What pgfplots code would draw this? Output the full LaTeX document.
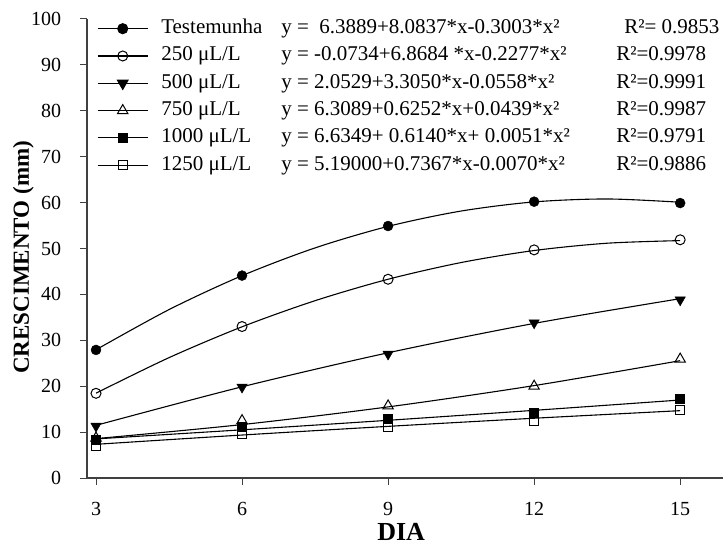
\documentclass[border=0pt]{standalone}
\usepackage{fontspec}
\setmainfont{Liberation Serif}
\usepackage{pgfplots}
\pgfplotsset{compat=1.18}
\begin{document}
\begin{tikzpicture}
\begin{axis}[
  at={(87bp,72bp)}, anchor=south west,
  scale only axis, width=636bp, height=459bp,
  xmin=2.815, xmax=15.88, ymin=0, ymax=100,
  axis x line=bottom, axis y line=left,
  axis line style={-, line width=1.2bp, black!75},
  xtick={3,6,9,12,15}, ytick={0,10,...,100},
  tick align=outside, major tick length=7bp,
  tick style={black!75, line width=1bp},
  /pgf/number format/assume math mode=true,
  tick label style={font=\fontsize{20bp}{22bp}\selectfont, inner sep=1bp},
  xticklabel shift=16bp,
  yticklabel shift=17.7bp,
  xlabel={\textbf{DIA}},
  ylabel={\textbf{CRESCIMENTO (mm)}},
  xlabel style={font=\fontsize{26bp}{28bp}\selectfont, inner sep=1bp, at={(axis description cs:0.494,-0.118)}, anchor=center},
  ylabel style={font=\fontsize{23bp}{25bp}\selectfont, inner sep=1bp, at={(axis description cs:-0.100,0.481)}, anchor=center, rotate=0},
  legend image code/.code={\draw[mark repeat=2,mark phase=2,#1] plot coordinates {(0bp,0bp) (25bp,0bp) (50bp,0bp)};},
  legend style={draw=none, fill=none, at={(0,1)}, anchor=north west, xshift=7bp, yshift=2bp,
    font=\fontsize{21bp}{23bp}\selectfont,
    nodes={inner sep=0pt, text height=14.5bp, text depth=4.5bp},
    row sep=8.3bp, column sep=0pt,
    /tikz/every odd column/.append style={column sep=13bp}},
  legend cell align=left,
  clip=false,
]
% fitted curves
\addplot[black, line width=1.1bp, smooth, forget plot] coordinates {(3,27.94) (4.5,36.69) (6,44.08) (7.5,50.13) (9,54.82) (10.5,58.16) (12,60.15) (13.5,60.79) (15,60.08)};
\addplot[black, line width=1.1bp, smooth, forget plot] coordinates {(3,18.48) (4.5,26.22) (6,32.94) (7.5,38.63) (9,43.30) (10.5,46.94) (12,49.56) (13.5,51.15) (15,51.72)};
\addplot[black, line width=1.1bp, smooth, forget plot] coordinates {(3,11.47) (6,19.87) (9,27.28) (12,33.68) (15,39.07)};
\addplot[black, line width=1.1bp, smooth, forget plot] coordinates {(3,8.58) (6,11.64) (9,15.49) (12,20.13) (15,25.56)};
\addplot[black, line width=1.1bp, smooth, forget plot] coordinates {(3,8.52) (6,10.50) (9,12.57) (12,14.74) (15,16.99)};
\addplot[black, line width=1.1bp, smooth, forget plot] coordinates {(3,7.34) (6,9.36) (9,11.25) (12,13.02) (15,14.67)};
% observed points
\addplot[only marks, mark=triangle, mark size=6bp, mark options={fill=white, black, line width=1bp}, forget plot] coordinates {(3,8.7) (6,12.5) (9,15.7) (12,20.0) (15,25.9)};
\addplot[only marks, mark=square*, mark size=4.5bp, mark options={fill=black, black}, forget plot] coordinates {(3,8.4) (6,11.2) (9,13.0) (12,14.2) (15,17.2)};
\addplot[only marks, mark=square, mark size=4.5bp, mark options={fill=white, black, line width=1bp}, forget plot] coordinates {(3,7.0) (6,9.6) (9,11.2) (12,12.5) (15,14.8)};
\addplot[only marks, mark=triangle*, mark size=6bp, mark options={fill=black, black, rotate=180}, forget plot] coordinates {(3,11.3) (6,19.8) (9,27.0) (12,33.8) (15,38.8)};
\addplot[only marks, mark=o, mark size=5bp, mark options={fill=white, black, line width=1bp}, forget plot] coordinates {(3,18.45) (6,33.0) (9,43.3) (12,49.7) (15,51.9)};
\addplot[only marks, mark=*, mark size=5bp, mark options={fill=black, black}, forget plot] coordinates {(3,27.9) (6,44.1) (9,54.9) (12,60.2) (15,59.9)};
% legend
\addlegendimage{black, line width=1.1bp, mark=*, mark size=5bp, mark options={fill=black}}
\addlegendentry{\makebox[120bp][l]{Testemunha}\makebox[343bp][l]{y =\ \ 6.3889+8.0837*x-0.3003*x²}R²= 0.9853}
\addlegendimage{black, line width=1.1bp, mark=o, mark size=5bp, mark options={fill=white, line width=1bp}}
\addlegendentry{\makebox[120bp][l]{250 μL/L}\makebox[335bp][l]{y = -0.0734+6.8684 *x-0.2277*x²}R²=0.9978}
\addlegendimage{black, line width=1.1bp, mark=triangle*, mark size=6bp, mark options={fill=black, rotate=180}}
\addlegendentry{\makebox[120bp][l]{500 μL/L}\makebox[335bp][l]{y = 2.0529+3.3050*x-0.0558*x²}R²=0.9991}
\addlegendimage{black, line width=1.1bp, mark=triangle, mark size=6bp, mark options={fill=white, line width=1bp}}
\addlegendentry{\makebox[120bp][l]{750 μL/L}\makebox[335bp][l]{y = 6.3089+0.6252*x+0.0439*x²}R²=0.9987}
\addlegendimage{black, line width=1.1bp, mark=square*, mark size=4.5bp, mark options={fill=black}}
\addlegendentry{\makebox[120bp][l]{1000 μL/L}\makebox[335bp][l]{y = 6.6349+ 0.6140*x+ 0.0051*x²}R²=0.9791}
\addlegendimage{black, line width=1.1bp, mark=square, mark size=4.5bp, mark options={fill=white, line width=1bp}}
\addlegendentry{\makebox[120bp][l]{1250 μL/L}\makebox[335bp][l]{y = 5.19000+0.7367*x-0.0070*x²}R²=0.9886}
\end{axis}
\pgfresetboundingbox
\path[use as bounding box] (0,0) rectangle (723bp,550bp);
\end{tikzpicture}
\end{document}
